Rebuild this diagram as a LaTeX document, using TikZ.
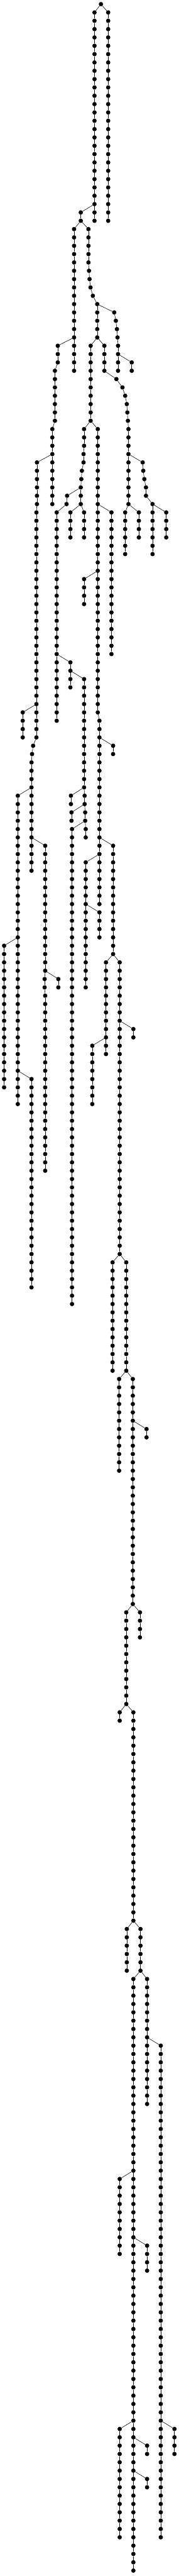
\documentclass[tikz,border=0pt]{standalone}
\tikzset{
  dot/.style={circle,fill=black,draw=none,inner sep=0pt,minimum size=10.6pt},
  edge/.style={draw=black,line width=0.9pt}
}
% straight vertical chain: name, parent, x, first level, last level
\newcommand\vch[5]{%
  \foreach \lv in {#4,...,#5}{%
    \pgfmathtruncatemacro\pl{\lv-1}%
    \node[dot] (#1-\lv) at (#3,{10+20.256*\lv}) {};
    \ifnum\lv=#4\relax \draw[edge] (#2) -- (#1-\lv);\else \draw[edge] (#1-\pl) -- (#1-\lv);\fi
  }%
}
% chain with explicit x list: name, parent, first level, x list
\newcommand\pch[4]{%
  \foreach \xx [count=\cc from 0] in {#4}{%
    \pgfmathtruncatemacro\lv{#3+\cc}%
    \pgfmathtruncatemacro\pl{\lv-1}%
    \node[dot] (#1-\lv) at (\xx,{10+20.256*\lv}) {};
    \ifnum\cc=0\relax \draw[edge] (#2) -- (#1-\lv);\else \draw[edge] (#1-\pl) -- (#1-\lv);\fi
  }%
}
\begin{document}
\begin{tikzpicture}[x=0.333333pt,y=-1pt]
\useasboundingbox (0,0) rectangle (1305,6262);
\node[dot] (R-0) at (737,10) {};
\vch{A}{R-0}{690}{1}{26}
\vch{B}{R-0}{790}{1}{26}
\vch{C}{A-24}{590}{25}{26}
\vch{D}{C-26}{541}{27}{44}
\pch{F}{C-26}{27}{646,646,646,646,646,650,654,661,678,710}
\vch{F}{F-36}{710}{37}{40}
\pch{G}{F-36}{37}{834,846,854,858,862,862,862,862}
\vch{H}{G-42}{962}{43}{44}
\pch{E}{D-40}{41}{422,422,422,401,401,401,401,401,401,401,382}
\vch{E}{E-51}{382}{52}{60}
\pch{M}{E-54}{55}{270,270,270,270,270,270}
\vch{M}{M-60}{266}{61}{88}
\pch{M}{M-88}{89}{242,234,230}
\vch{M}{M-91}{230}{92}{104}
\vch{W}{M-84}{166}{85}{88}
\vch{X}{M-94}{130}{95}{132}
\vch{AG}{X-112}{30}{113}{130}
\vch{AO}{X-128}{230}{129}{154}
\vch{Y}{M-100}{330}{101}{116}
\pch{Y}{Y-116}{117}{326,326}
\vch{Y}{Y-118}{330}{119}{140}
\vch{AH}{Y-116}{426}{117}{118}
\vch{I}{F-40}{662}{41}{50}
\vch{J}{F-40}{762}{41}{44}
\pch{J}{J-44}{45}{850,894,914,926,930,934,938}
\vch{J}{J-51}{938}{52}{60}
\pch{K}{I-50}{51}{614,614,614,610,610,598,594,590,590,590}
\vch{Lc}{I-50}{714}{51}{85}
\vch{Lc}{Lc-85}{726}{86}{108}
\pch{N}{K-58}{59}{490,486}
\vch{N}{N-60}{414}{61}{86}
\vch{O}{K-60}{514}{61}{64}
\vch{P}{K-60}{614}{61}{64}
\vch{Q}{Lc-60}{814}{61}{78}
\vch{RR}{Lc-68}{614}{69}{72}
\pch{S}{J-54}{55}{1042,1046,1054,1066,1066,1114}
\vch{S}{S-60}{1114}{61}{66}
\vch{T}{S-60}{1214}{61}{64}
\vch{U}{J-60}{914}{61}{66}
\vch{V}{J-60}{1014}{61}{64}
\vch{Z}{N-78}{514}{79}{82}
\vch{AA}{Z-80}{614}{81}{94}
\pch{AA}{AA-94}{95}{618,618,622,622,626,626}
\vch{AB}{AA-94}{518}{95}{96}
\vch{AC}{AA-96}{522}{97}{98}
\vch{AD}{AA-98}{526}{99}{156}
\vch{AE}{Lc-88}{826}{89}{90}
\vch{AF}{Lc-100}{826}{101}{114}
\vch{AI}{Lc-102}{626}{103}{118}
\vch{AJ}{AI-108}{726}{109}{112}
\vch{AK}{AF-114}{774}{115}{126}
\vch{AL}{AF-114}{874}{115}{150}
\vch{AM}{AL-122}{974}{123}{124}
\vch{AN}{AK-124}{674}{125}{132}
\vch{AP}{AL-150}{822}{151}{164}
\vch{AQ}{AL-150}{922}{151}{164}
\vch{AR}{AQ-164}{870}{165}{176}
\vch{AS}{AQ-164}{970}{165}{192}
\vch{AT}{AS-170}{1070}{171}{172}
\vch{AU}{AS-192}{922}{193}{204}
\vch{AV}{AS-192}{1022}{193}{196}
\vch{AW}{AU-204}{874}{205}{206}
\vch{AX}{AU-204}{974}{205}{230}
\vch{AY}{AX-230}{926}{231}{236}
\vch{AZ}{AX-230}{1026}{231}{236}
\vch{BA}{AZ-236}{974}{237}{308}
\vch{BB}{AZ-236}{1074}{237}{252}
\vch{BC}{BB-244}{1174}{245}{304}
\vch{BD}{BA-260}{874}{261}{270}
\vch{BE}{BA-268}{1074}{269}{272}
\vch{BF}{BA-290}{874}{291}{304}
\vch{BG}{BA-292}{1074}{293}{294}
\vch{BH}{BA-296}{1074}{297}{298}
\vch{BI}{BC-290}{1274}{291}{294}
\end{tikzpicture}
\end{document}
